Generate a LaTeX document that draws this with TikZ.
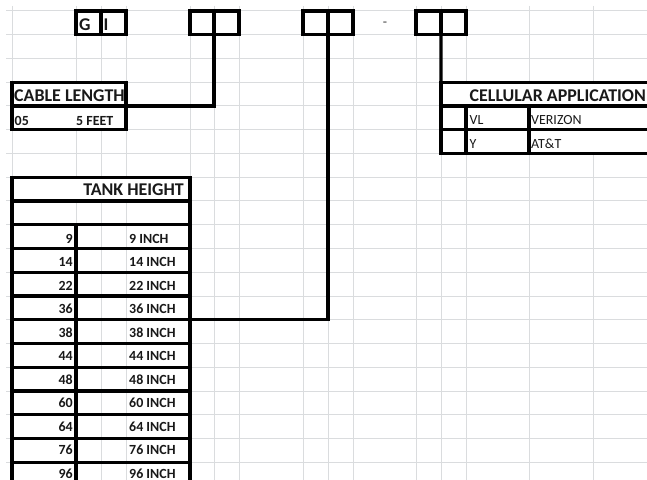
\documentclass[tikz,border=0pt]{standalone}
\usepackage{fontspec}
\setmainfont{Carlito}
\definecolor{gridc}{RGB}{218,220,222}
\definecolor{ink}{RGB}{25,25,25}
\begin{document}
\begin{tikzpicture}[x=1bp,y=-1bp,
  gridline/.style={draw=gridc,line width=1bp},
  heavy/.style={draw=black,line width=3.2bp},
  cellbox/.style={heavy,fill=white,inner sep=0pt,outer sep=0pt,anchor=north west,minimum height=23.75bp},
  openbox/.style={heavy,inner sep=0pt,outer sep=0pt,anchor=north west,minimum height=23.75bp},
  conn/.style={draw=black,line width=3.2bp},
  hdr/.style={font=\bfseries\fontsize{18}{20}\selectfont,inner sep=0pt,text=ink},
  dat/.style={font=\bfseries\fontsize{14}{16}\selectfont,inner sep=0pt,text=ink},
  reg/.style={font=\fontsize{14}{16}\selectfont,inner sep=0pt,text=ink}]
\clip (0,0) rectangle (647,480);
\fill[white] (0,0) rectangle (647,480);
% spreadsheet grid
\foreach \x in {12,76,101,126,190,214,239,303,328,353,416,441,466,529,593}
  \draw[gridline] (\x,6) -- (\x,480);
\foreach \k in {0,...,20}
  \draw[gridline] (6,{11+23.75*\k}) -- (647,{11+23.75*\k});

% code boxes in the top row
\node[cellbox,minimum width=25bp] (ga) at (76,11) {};
\node[cellbox,minimum width=25bp] (gb) at (101,11) {};
\node[hdr,anchor=base west] (tg) at (79,30.5) {G};
\node[hdr,anchor=base west] (ti) at (103.5,30.5) {I};
\node[cellbox,minimum width=24bp] (b2a) at (190,11) {};
\node[cellbox,minimum width=25bp] (b2b) at (214,11) {};
\node[cellbox,minimum width=25bp] (b3a) at (303,11) {};
\node[cellbox,minimum width=25bp] (b3b) at (328,11) {};
\node[reg,text=black!75] (dash) at (385,24) {-};
\node[cellbox,minimum width=25bp] (b4a) at (416,11) {};
\node[cellbox,minimum width=25bp] (b4b) at (441,11) {};

% cable length table
\node[cellbox,minimum width=114bp,minimum height=47.5bp] (cable) at (12,82.25) {};
\draw[heavy] (cable.west) -- (cable.east);
\node[hdr,anchor=base west] (tcable) at (14,101.5) {CABLE LENGTH};
\node[dat,anchor=base west] (t05) at (14.5,126) {05};
\node[dat,anchor=base west] (t5ft) at (76,126) {5 FEET};

% cellular application table
\node[cellbox,minimum width=260bp] (cellhdr) at (441,82.25) {};
\node[cellbox,minimum width=25bp] (c1a) at (441,106) {};
\node[cellbox,minimum width=63bp] (c1b) at (466,106) {};
\node[cellbox,minimum width=172bp] (c1c) at (529,106) {};
\node[cellbox,minimum width=25bp] (c2a) at (441,129.75) {};
\node[cellbox,minimum width=63bp] (c2b) at (466,129.75) {};
\node[cellbox,minimum width=172bp] (c2c) at (529,129.75) {};
\node[hdr,anchor=base west] (tcell) at (469.5,101.5) {CELLULAR APPLICATION};
\node[reg,anchor=base west] (tvl) at (469.5,125) {VL};
\node[reg,anchor=base west] (tver) at (531,125) {VERIZON};
\node[reg,anchor=base west] (ty) at (469.5,148.5) {Y};
\node[reg,anchor=base west] (tatt) at (531,148.5) {AT\&T};

% tank height table
\node[cellbox,minimum width=178bp] (tankhdr) at (12,177.25) {};
\node[hdr,anchor=base east] (ttank) at (184,196) {TANK HEIGHT};
\node[openbox,minimum width=178bp] (tankblank) at (12,201) {};
\foreach \v [count=\i from 0] in {9,14,22,36,38,44,48,60,64,76,96} {
  \pgfmathsetmacro\rtop{224.75+23.75*\i}
  \pgfmathsetmacro\rbase{\rtop+18.3-0.25*\i}
  \node[cellbox,minimum width=64bp] (l\v) at (12,\rtop) {};
  \node[openbox,minimum width=114bp] (t\v) at (76,\rtop) {};
  \node[dat,anchor=base east] (nl\v) at (73,\rbase) {\v};
  \node[dat,anchor=base west] (nr\v) at (129,\rbase) {\v\ INCH};
}

% connectors
\draw[conn] (b2a.south east) |- (cable.east);
\draw[conn] (b3a.south east) |- (t36.south east);
\draw[conn] (b4a.south east) -- (cellhdr.north west);
\end{tikzpicture}
\end{document}
